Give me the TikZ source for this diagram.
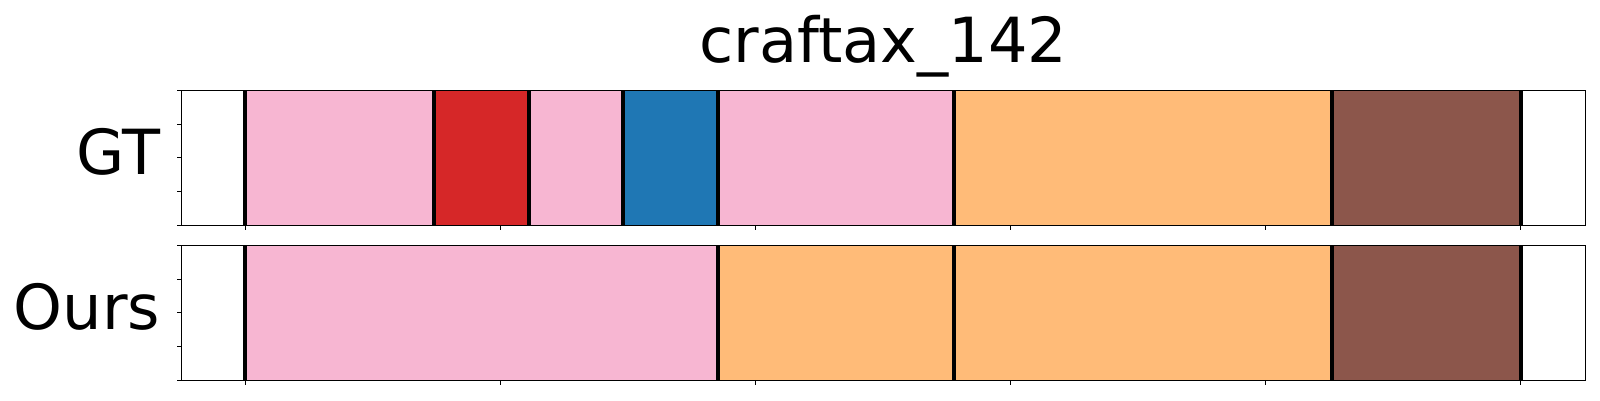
\documentclass[tikz,border=0pt]{standalone}
\usepackage{fontspec}
\setmainfont{DejaVu Sans}
\definecolor{cpink}{HTML}{F7B6D2}
\definecolor{cred}{HTML}{D62728}
\definecolor{cblue}{HTML}{1F77B4}
\definecolor{corange}{HTML}{FFBB78}
\definecolor{cbrown}{HTML}{8C564B}
\tikzset{
  sep/.style={line width=4pt, black},
  frame/.style={line width=1.1pt, black},
  tick/.style={line width=1pt, black},
  bigtext/.style={font=\fontsize{62.2}{75}\selectfont, inner sep=0pt},
}
\begin{document}
\begin{tikzpicture}[x=1pt,y=-1pt]
\useasboundingbox (0,0) rectangle (1600,400);
\fill[white] (0,0) rectangle (1600,400);
% --- GT axes (y 90.3..225.3) ---
\def\ta{90.3}\def\tb{225.3}
\fill[cpink]   (244.7,\ta) rectangle (434,\tb);
\fill[cred]    (434,\ta) rectangle (528.8,\tb);
\fill[cpink]   (528.8,\ta) rectangle (623,\tb);
\fill[cblue]   (623,\ta) rectangle (718,\tb);
\fill[cpink]   (718,\ta) rectangle (954,\tb);
\fill[corange] (954,\ta) rectangle (1332,\tb);
\fill[cbrown]  (1332,\ta) rectangle (1521,\tb);
\foreach \x in {244.7,434,528.8,623,718,954,1332,1521}
  \draw[sep] (\x,\ta) -- (\x,\tb);
\draw[frame] (181.5,\ta) rectangle (1585.3,\tb);
\foreach \i in {0,1,2,3,4}
  \draw[tick] (181.5,{\ta+\i*33.75}) -- (176.5,{\ta+\i*33.75});
\foreach \x in {245.5,500.5,755.5,1010.5,1265.5,1520.5}
  \draw[tick] (\x,\tb) -- (\x,{\tb+5});
% --- Ours axes (y 245.3..380.3) ---
\def\ba{245.3}\def\bb{380.3}
\fill[cpink]   (244.7,\ba) rectangle (718,\bb);
\fill[corange] (718,\ba) rectangle (954,\bb);
\fill[corange] (954,\ba) rectangle (1332,\bb);
\fill[cbrown]  (1332,\ba) rectangle (1521,\bb);
\foreach \x in {244.7,718,954,1332,1521}
  \draw[sep] (\x,\ba) -- (\x,\bb);
\draw[frame] (181.5,\ba) rectangle (1585.3,\bb);
\foreach \i in {0,1,2,3,4}
  \draw[tick] (181.5,{\ba+\i*33.75}) -- (176.5,{\ba+\i*33.75});
\foreach \x in {245.5,500.5,755.5,1010.5,1265.5,1520.5}
  \draw[tick] (\x,\bb) -- (\x,{\bb+5});
% --- texts ---
\node[bigtext, anchor=base] (title) at (883.4,62.5) {craftax\_142};
\node[bigtext, anchor=base east] (gt) at (160.5,174.5) {GT};
\node[bigtext, anchor=base east] (ours) at (160.5,329) {Ours};
\end{tikzpicture}
\end{document}
